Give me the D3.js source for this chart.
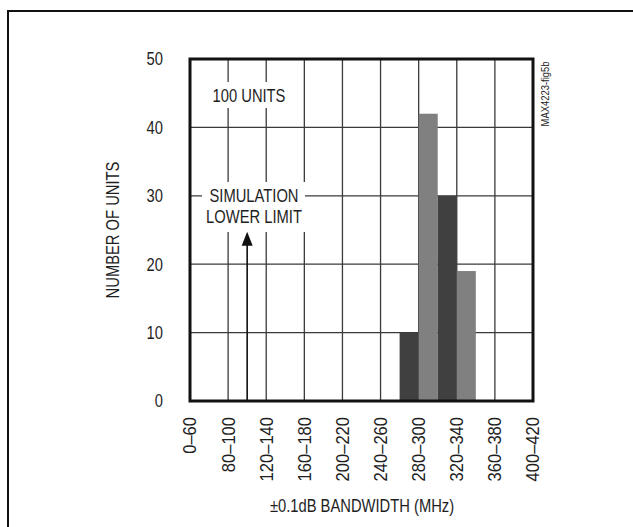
<!DOCTYPE html>
<html>
<head>
<meta charset="utf-8">
<script src="https://cdn.jsdelivr.net/npm/d3@7"></script>
<style>
  html, body { margin: 0; padding: 0; background: #fff; }
  svg { display: block; }
  text { font-family: "Liberation Sans", Arial, sans-serif; fill: #1e1e1e; }
</style>
</head>
<body>
<svg id="chart" width="633" height="527"></svg>
<script>
// ---- data ----
const tickLabels = ["0–60", "80–100", "120–140", "160–180", "200–220", "240–260", "280–300", "320–340", "360–380", "400–420"];
const tickCenters = [50, 90, 130, 170, 210, 250, 290, 330, 370, 410]; // MHz position of each label
const binStart = [270, 290, 310, 330];
const binEnd = [290, 310, 330, 350];
const binCounts = [10, 42, 30, 19];
const binShade = ["dark", "light", "dark", "light"];
const yTicks = [0, 10, 20, 30, 40, 50];
const lowerLimitMHz = 110;
const lowerLimitArrowTop = 24.75;

// ---- layout ----
const svg = d3.select("#chart");
const W = 633, H = 527;
const pL = 190, pR = 533, pT = 59, pB = 401;
const x = d3.scaleLinear().domain([50, 410]).range([pL, pR]);
const y = d3.scaleLinear().domain([0, 50]).range([pB, pT]);
const shade = { dark: "#404040", light: "#808080" };
const gridColor = "#3a3a3a";

// condensed text helper: text drawn in its own frame, squeezed along its baseline
function label(parent, tx, ty, rot, str, size, anchor, dy, squeeze) {
  const t = parent.append("text")
    .attr("transform", `translate(${tx},${ty}) rotate(${rot}) scale(${squeeze || 0.82},1)`)
    .attr("text-anchor", anchor || "middle")
    .style("font-size", size + "px")
    .text(str);
  if (dy) t.attr("dy", dy);
  return t;
}

// outer frame (top and left edges visible)
svg.append("path")
  .attr("d", `M8,${H + 5} L8,11 L${W + 5},11`)
  .attr("fill", "none").attr("stroke", "#111").attr("stroke-width", 2);

// gridlines
const g = svg.append("g");
g.selectAll("line.vg").data(tickCenters.slice(1, -1)).enter().append("line")
  .attr("x1", d => x(d)).attr("x2", d => x(d))
  .attr("y1", pT).attr("y2", pB)
  .attr("stroke", gridColor).attr("stroke-width", 1.3);
g.selectAll("line.hg").data(yTicks.slice(1, -1)).enter().append("line")
  .attr("x1", pL).attr("x2", pR)
  .attr("y1", d => y(d)).attr("y2", d => y(d))
  .attr("stroke", gridColor).attr("stroke-width", 1.3);

// bars
g.selectAll("rect.bar").data(binCounts).enter().append("rect")
  .attr("x", (d, i) => x(binStart[i]))
  .attr("width", (d, i) => x(binEnd[i]) - x(binStart[i]))
  .attr("y", d => y(d))
  .attr("height", d => y(0) - y(d))
  .attr("fill", (d, i) => shade[binShade[i]]);

// annotation: 100 UNITS
svg.append("rect").attr("x", 205).attr("y", 82).attr("width", 87).attr("height", 26).attr("fill", "#fff");
label(svg, 249, 101.5, 0, "100 UNITS", 18);

// annotation: simulation lower limit
svg.append("rect").attr("x", 202).attr("y", 182).attr("width", 103).attr("height", 50).attr("fill", "#fff");
label(svg, 254, 201.5, 0, "SIMULATION", 18);
label(svg, 254, 223, 0, "LOWER LIMIT", 18);

// arrow
const ax = x(lowerLimitMHz), aTip = y(lowerLimitArrowTop);
svg.append("line").attr("x1", ax).attr("x2", ax).attr("y1", y(0)).attr("y2", aTip + 10)
  .attr("stroke", "#111").attr("stroke-width", 1.6);
svg.append("path")
  .attr("d", `M${ax},${aTip} L${ax - 5.5},${aTip + 14} L${ax + 5.5},${aTip + 14} Z`)
  .attr("fill", "#111");

// plot border
svg.append("rect").attr("x", pL).attr("y", pT)
  .attr("width", pR - pL).attr("height", pB - pT)
  .attr("fill", "none").attr("stroke", "#111").attr("stroke-width", 3);

// y tick labels
yTicks.forEach(d => label(svg, 163, y(d), 0, d, 18, "end", "0.36em"));

// x tick labels (rotated)
tickLabels.forEach((d, i) => label(svg, x(tickCenters[i]), 417, -90, d, 18, "end", "0.36em", 0.92));

// axis titles
label(svg, 113, (pT + pB) / 2, -90, "NUMBER OF UNITS", 18, "middle", "0.36em");
label(svg, 362, 511.5, 0, "±0.1dB BANDWIDTH (MHz)", 18);

// figure id
label(svg, 545, 94, -90, "MAX4223-fig5b", 11.5, "middle", "0.36em");
</script>
</body>
</html>
